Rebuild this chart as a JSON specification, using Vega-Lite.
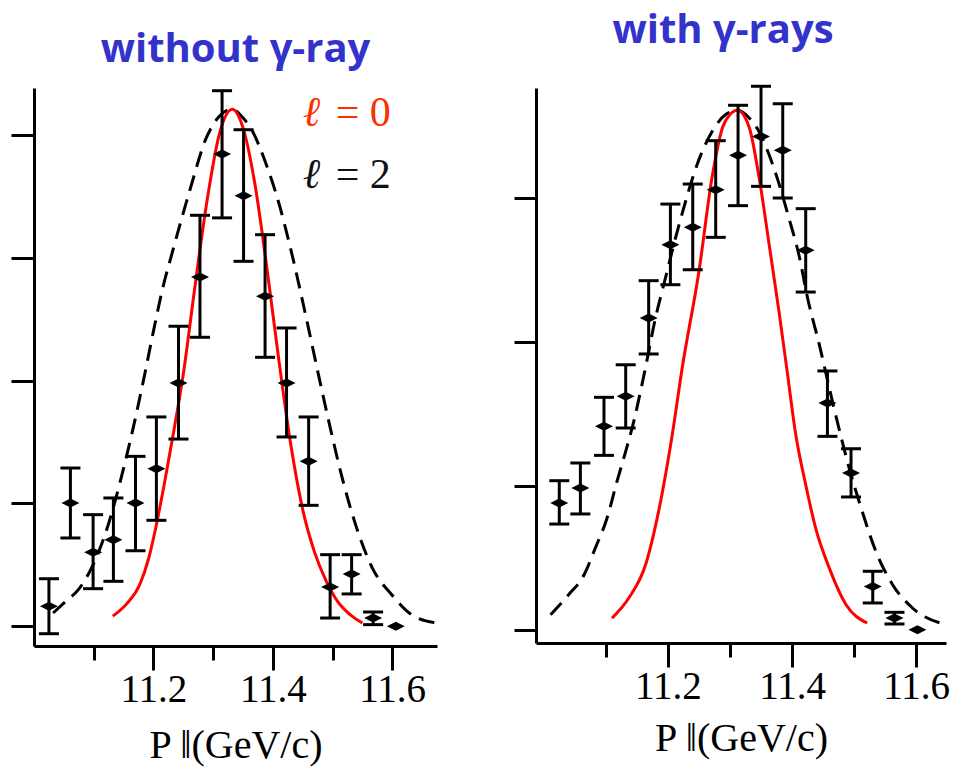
{
  "$schema": "https://vega.github.io/schema/vega-lite/v6.json",
  "background": "white",
  "padding": {"left": 9, "top": 10, "right": 5, "bottom": 5},
  "bounds": "flush",
  "spacing": 99,
  "config": {
    "view": {"stroke": null},
    "axis": {
      "domainColor": "black", "domainWidth": 3, "tickColor": "black", "tickWidth": 3,
      "grid": false, "labelFont": "Times New Roman, Liberation Serif, Tinos, DejaVu Serif, serif", "titleFont": "Times New Roman, Liberation Serif, Tinos, DejaVu Serif, serif",
      "labelColor": "black", "titleColor": "black", "titleFontWeight": "normal"
    },
    "title": {"font": "Open Sans", "fontWeight": "bold", "color": "#3333cc", "fontSize": 40, "frame": "group"}
  },
  "datasets": {
    "L_pts": [
      {"x": 11.025, "y": 0.160, "lo": -0.063, "hi": 0.385},
      {"x": 11.061, "y": 1.002, "lo": 0.717, "hi": 1.287},
      {"x": 11.099, "y": 0.600, "lo": 0.304, "hi": 0.907},
      {"x": 11.133, "y": 0.703, "lo": 0.364, "hi": 1.043},
      {"x": 11.170, "y": 1.002, "lo": 0.613, "hi": 1.382},
      {"x": 11.205, "y": 1.281, "lo": 0.861, "hi": 1.703},
      {"x": 11.242, "y": 1.980, "lo": 1.523, "hi": 2.442},
      {"x": 11.278, "y": 2.843, "lo": 2.352, "hi": 3.346},
      {"x": 11.315, "y": 3.845, "lo": 3.325, "hi": 4.361},
      {"x": 11.351, "y": 3.506, "lo": 2.971, "hi": 4.043},
      {"x": 11.387, "y": 2.686, "lo": 2.189, "hi": 3.188},
      {"x": 11.423, "y": 1.980, "lo": 1.540, "hi": 2.428},
      {"x": 11.460, "y": 1.342, "lo": 0.983, "hi": 1.703},
      {"x": 11.496, "y": 0.318, "lo": 0.065, "hi": 0.581},
      {"x": 11.532, "y": 0.424, "lo": 0.261, "hi": 0.581},
      {"x": 11.568, "y": 0.065, "lo": 0.011, "hi": 0.114},
      {"x": 11.606, "y": -0.002, "lo": null, "hi": null}
    ],
    "L_l0": [
      {"x": 11.132, "y": 0.08}, {"x": 11.155, "y": 0.18}, {"x": 11.177, "y": 0.336}, {"x": 11.192, "y": 0.55},
      {"x": 11.205, "y": 0.825}, {"x": 11.218, "y": 1.15}, {"x": 11.232, "y": 1.53}, {"x": 11.25, "y": 2.05},
      {"x": 11.27, "y": 2.78}, {"x": 11.29, "y": 3.47}, {"x": 11.31, "y": 4.0}, {"x": 11.332, "y": 4.21},
      {"x": 11.35, "y": 4.06}, {"x": 11.37, "y": 3.6}, {"x": 11.39, "y": 2.92}, {"x": 11.41, "y": 2.17},
      {"x": 11.43, "y": 1.48}, {"x": 11.45, "y": 0.95}, {"x": 11.47, "y": 0.6}, {"x": 11.49, "y": 0.36},
      {"x": 11.51, "y": 0.19}, {"x": 11.53, "y": 0.09}, {"x": 11.55, "y": 0.024}
    ],
    "L_l2": [
      {"x": 11.032, "y": 0.106}, {"x": 11.054, "y": 0.204}, {"x": 11.075, "y": 0.30}, {"x": 11.093, "y": 0.44},
      {"x": 11.108, "y": 0.60}, {"x": 11.121, "y": 0.774}, {"x": 11.146, "y": 1.206}, {"x": 11.165, "y": 1.59},
      {"x": 11.185, "y": 2.04}, {"x": 11.20, "y": 2.40}, {"x": 11.215, "y": 2.74}, {"x": 11.232, "y": 3.05},
      {"x": 11.261, "y": 3.55}, {"x": 11.288, "y": 3.97}, {"x": 11.31, "y": 4.15}, {"x": 11.332, "y": 4.21},
      {"x": 11.35, "y": 4.14}, {"x": 11.366, "y": 4.03}, {"x": 11.386, "y": 3.80}, {"x": 11.411, "y": 3.43},
      {"x": 11.431, "y": 3.05}, {"x": 11.456, "y": 2.51}, {"x": 11.475, "y": 2.08}, {"x": 11.495, "y": 1.64},
      {"x": 11.516, "y": 1.21}, {"x": 11.539, "y": 0.82}, {"x": 11.567, "y": 0.47}, {"x": 11.60, "y": 0.25},
      {"x": 11.633, "y": 0.09}, {"x": 11.675, "y": 0.024}
    ],
    "L_txt": [
      {"x": 11.450, "y": 4.07, "sym": "ℓ", "rest": "= 0", "c": "#ff3000"},
      {"x": 11.450, "y": 3.568, "sym": "ℓ", "rest": "= 2", "c": "#111111"}
    ],
    "R_pts": [
      {"x": 11.025, "y": 0.882, "lo": 0.736, "hi": 1.037},
      {"x": 11.059, "y": 0.986, "lo": 0.806, "hi": 1.160},
      {"x": 11.097, "y": 1.415, "lo": 1.213, "hi": 1.616},
      {"x": 11.132, "y": 1.623, "lo": 1.403, "hi": 1.842},
      {"x": 11.169, "y": 2.167, "lo": 1.917, "hi": 2.426},
      {"x": 11.204, "y": 2.676, "lo": 2.398, "hi": 2.958},
      {"x": 11.240, "y": 2.797, "lo": 2.502, "hi": 3.097},
      {"x": 11.277, "y": 3.058, "lo": 2.727, "hi": 3.398},
      {"x": 11.313, "y": 3.297, "lo": 2.947, "hi": 3.644},
      {"x": 11.350, "y": 3.428, "lo": 3.081, "hi": 3.776},
      {"x": 11.385, "y": 3.331, "lo": 3.000, "hi": 3.655},
      {"x": 11.422, "y": 2.637, "lo": 2.347, "hi": 2.926},
      {"x": 11.457, "y": 1.576, "lo": 1.345, "hi": 1.799},
      {"x": 11.495, "y": 1.090, "lo": 0.924, "hi": 1.259},
      {"x": 11.530, "y": 0.303, "lo": 0.188, "hi": 0.408},
      {"x": 11.565, "y": 0.083, "lo": 0.042, "hi": 0.123},
      {"x": 11.602, "y": 0.002, "lo": null, "hi": null}
    ],
    "R_l0": [
      {"x": 11.110, "y": 0.083}, {"x": 11.137, "y": 0.222}, {"x": 11.164, "y": 0.453}, {"x": 11.185, "y": 0.824},
      {"x": 11.207, "y": 1.356}, {"x": 11.223, "y": 1.82}, {"x": 11.250, "y": 2.49}, {"x": 11.271, "y": 3.14},
      {"x": 11.288, "y": 3.49}, {"x": 11.300, "y": 3.58}, {"x": 11.312, "y": 3.609}, {"x": 11.331, "y": 3.49},
      {"x": 11.347, "y": 3.14}, {"x": 11.363, "y": 2.68}, {"x": 11.379, "y": 2.21}, {"x": 11.392, "y": 1.80},
      {"x": 11.406, "y": 1.356}, {"x": 11.422, "y": 1.009}, {"x": 11.438, "y": 0.708}, {"x": 11.460, "y": 0.43},
      {"x": 11.487, "y": 0.176}, {"x": 11.521, "y": 0.049}
    ],
    "R_l2": [
      {"x": 11.011, "y": 0.106}, {"x": 11.040, "y": 0.245}, {"x": 11.065, "y": 0.384}, {"x": 11.083, "y": 0.569},
      {"x": 11.102, "y": 0.778}, {"x": 11.118, "y": 1.033}, {"x": 11.132, "y": 1.241}, {"x": 11.145, "y": 1.449},
      {"x": 11.161, "y": 1.762}, {"x": 11.180, "y": 2.167}, {"x": 11.196, "y": 2.444}, {"x": 11.218, "y": 2.815},
      {"x": 11.253, "y": 3.30}, {"x": 11.271, "y": 3.46}, {"x": 11.293, "y": 3.58}, {"x": 11.312, "y": 3.609},
      {"x": 11.331, "y": 3.556}, {"x": 11.347, "y": 3.46}, {"x": 11.363, "y": 3.30}, {"x": 11.376, "y": 3.14},
      {"x": 11.395, "y": 2.86}, {"x": 11.411, "y": 2.606}, {"x": 11.425, "y": 2.306}, {"x": 11.444, "y": 1.98},
      {"x": 11.465, "y": 1.588}, {"x": 11.492, "y": 1.125}, {"x": 11.513, "y": 0.824}, {"x": 11.535, "y": 0.546},
      {"x": 11.562, "y": 0.315}, {"x": 11.594, "y": 0.153}, {"x": 11.648, "y": 0.037}
    ]
  },
  "hconcat": [
    {
      "width": 403,
      "height": 558,
      "title": {"text": "without γ-ray", "offset": 18},
      "encoding": {
        "x": {"field": "x", "type": "quantitative",
          "scale": {"domain": [11.0, 11.675], "nice": false, "zero": false},
          "axis": {
            "values": [11.1, 11.2, 11.3, 11.4, 11.5, 11.6],
            "tickSize": {"condition": {"test": "round(datum.value*10)%2==0", "value": 24}, "value": 14},
            "labelExpr": "round(datum.value*10)%2==0 ? format(datum.value, '.1f') : ''",
            "labelFontSize": 39, "labelPadding": 0,
            "title": "P ‖(GeV/c)", "titleFontSize": 40, "titlePadding": 16
          }
        },
        "y": {"field": "y", "type": "quantitative",
          "scale": {"domain": [-0.163, 4.383], "nice": false, "zero": false},
          "axis": {"values": [0, 1, 2, 3, 4], "labels": false, "title": null, "tickSize": 23}
        }
      },
      "layer": [
        {"data": {"name": "L_l2"}, "mark": {"type": "line", "color": "black", "strokeWidth": 3, "strokeDash": [16, 9], "interpolate": "monotone"}},
        {"data": {"name": "L_l0"}, "mark": {"type": "line", "color": "#ff0000", "strokeWidth": 3, "interpolate": "monotone"}},
        {"data": {"name": "L_pts"}, "transform": [{"filter": "datum.lo != null"}],
          "mark": {"type": "rule", "color": "black", "strokeWidth": 3, "opacity": 1},
          "encoding": {"y": {"field": "lo", "type": "quantitative"}, "y2": {"field": "hi"}}},
        {"data": {"name": "L_pts"}, "transform": [{"filter": "datum.lo != null"}],
          "mark": {"type": "tick", "orient": "horizontal", "color": "black", "opacity": 1, "size": 20, "thickness": 3},
          "encoding": {"y": {"field": "lo", "type": "quantitative"}}},
        {"data": {"name": "L_pts"}, "transform": [{"filter": "datum.hi != null"}],
          "mark": {"type": "tick", "orient": "horizontal", "color": "black", "opacity": 1, "size": 20, "thickness": 3},
          "encoding": {"y": {"field": "hi", "type": "quantitative"}}},
        {"data": {"name": "L_pts"},
          "mark": {"type": "point", "shape": "M-1,0L0,-0.5L1,0L0,0.5Z", "filled": true, "color": "black", "opacity": 1, "size": 324}},
        {"data": {"name": "L_txt"},
          "mark": {"type": "text", "font": "Times New Roman, Liberation Serif, DejaVu Serif, serif", "fontStyle": "italic", "fontSize": 42, "align": "left", "baseline": "alphabetic"},
          "encoding": {"text": {"field": "sym"}, "color": {"field": "c", "type": "nominal", "scale": null}}},
        {"data": {"name": "L_txt"},
          "mark": {"type": "text", "font": "Times New Roman, Liberation Serif, DejaVu Serif, serif", "fontSize": 42, "align": "left", "baseline": "alphabetic", "dx": 33},
          "encoding": {"text": {"field": "rest"}, "color": {"field": "c", "type": "nominal", "scale": null}}}
      ]
    },
    {
      "width": 410,
      "height": 555,
      "title": {"text": "with γ-rays", "offset": 34, "dx": -18},
      "encoding": {
        "x": {"field": "x", "type": "quantitative",
          "scale": {"domain": [10.9875, 11.648], "nice": false, "zero": false},
          "axis": {
            "values": [11.1, 11.2, 11.3, 11.4, 11.5, 11.6],
            "tickSize": {"condition": {"test": "round(datum.value*10)%2==0", "value": 24}, "value": 14},
            "labelExpr": "round(datum.value*10)%2==0 ? format(datum.value, '.1f') : ''",
            "labelFontSize": 39, "labelPadding": 0,
            "title": "P ‖(GeV/c)", "titleFontSize": 40, "titlePadding": 12
          }
        },
        "y": {"field": "y", "type": "quantitative",
          "scale": {"domain": [-0.09, 3.764], "nice": false, "zero": false},
          "axis": {"values": [0, 1, 2, 3], "labels": false, "title": null, "tickSize": 22}
        }
      },
      "layer": [
        {"data": {"name": "R_l2"}, "mark": {"type": "line", "color": "black", "strokeWidth": 3, "strokeDash": [16, 9], "interpolate": "monotone"}},
        {"data": {"name": "R_l0"}, "mark": {"type": "line", "color": "#ff0000", "strokeWidth": 3, "interpolate": "monotone"}},
        {"data": {"name": "R_pts"}, "transform": [{"filter": "datum.lo != null"}],
          "mark": {"type": "rule", "color": "black", "strokeWidth": 3, "opacity": 1},
          "encoding": {"y": {"field": "lo", "type": "quantitative"}, "y2": {"field": "hi"}}},
        {"data": {"name": "R_pts"}, "transform": [{"filter": "datum.lo != null"}],
          "mark": {"type": "tick", "orient": "horizontal", "color": "black", "opacity": 1, "size": 20, "thickness": 3},
          "encoding": {"y": {"field": "lo", "type": "quantitative"}}},
        {"data": {"name": "R_pts"}, "transform": [{"filter": "datum.hi != null"}],
          "mark": {"type": "tick", "orient": "horizontal", "color": "black", "opacity": 1, "size": 20, "thickness": 3},
          "encoding": {"y": {"field": "hi", "type": "quantitative"}}},
        {"data": {"name": "R_pts"},
          "mark": {"type": "point", "shape": "M-1,0L0,-0.5L1,0L0,0.5Z", "filled": true, "color": "black", "opacity": 1, "size": 324}}
      ]
    }
  ]
}
